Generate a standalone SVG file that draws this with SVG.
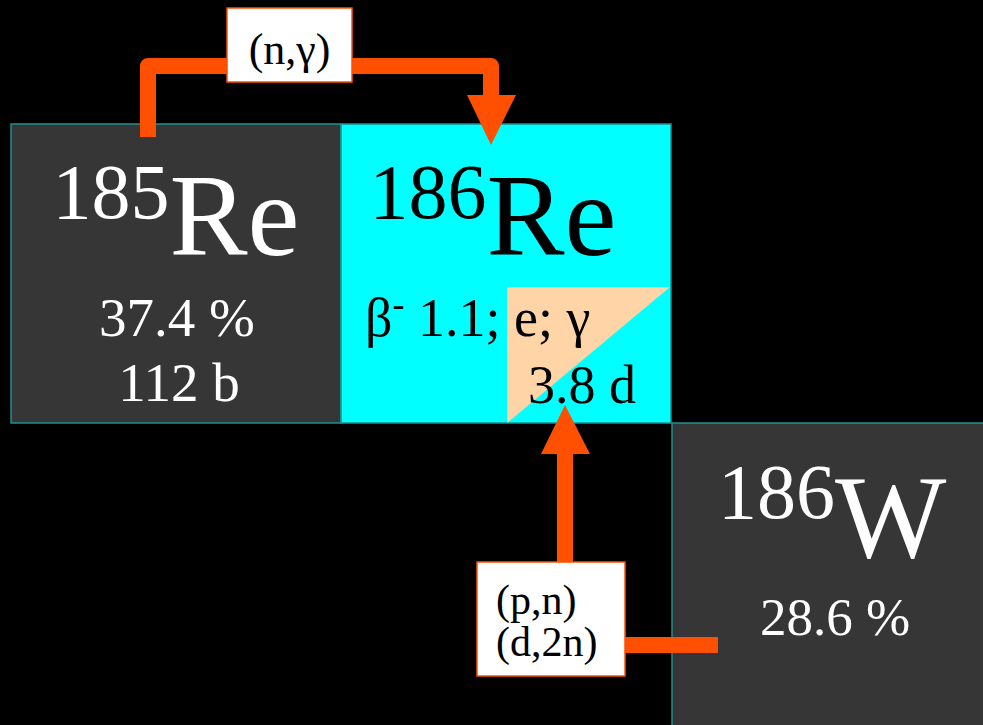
<svg xmlns="http://www.w3.org/2000/svg" width="983" height="725" viewBox="0 0 983 725">
<style>
.t{font-family:"Liberation Serif","Times New Roman",serif}
.w{fill:#ffffff}
.k{fill:#000000}
.cell{stroke:#1f8f8f;stroke-width:1.5}
.dark{fill:#363636}
.conn{fill:none;stroke:#ff4f00;stroke-width:16;stroke-linejoin:round}
.head{fill:#ff4f00}
.lbl{fill:#ffffff;stroke:#ff4f00;stroke-width:1.5}
</style>
<rect x="0" y="0" width="983" height="725" fill="#000000"/>
<g id="re185">
<rect class="cell dark" x="11" y="124" width="330" height="299"/>
<text class="t w" x="176" y="255" text-anchor="middle"><tspan font-size="78" dy="-37">185</tspan><tspan font-size="117" dy="37">Re</tspan></text>
<text class="t w" x="177" y="336" font-size="55" text-anchor="middle">37.4 %</text>
<text class="t w" x="179" y="401" font-size="55" text-anchor="middle">112 b</text>
</g>
<g id="re186">
<rect class="cell" fill="#00ffff" x="341" y="124" width="330" height="299"/>
<polygon points="507,287 670,287 507,423" fill="#ffd5a8"/>
<text class="t k" x="493" y="255" text-anchor="middle"><tspan font-size="78" dy="-37">186</tspan><tspan font-size="117" dy="37">Re</tspan></text>
<text class="t k" x="365" y="336" font-size="54">β<tspan font-size="36" dy="-20">-</tspan><tspan dy="20"> 1.1; e; γ</tspan></text>
<text class="t k" x="528" y="403" font-size="54">3.8 d</text>
</g>
<g id="w186">
<rect class="cell dark" x="672" y="423" width="320" height="310"/>
<text class="t w" x="718" y="557"><tspan font-size="78" dy="-39">186</tspan><tspan font-size="118" dy="39">W</tspan></text>
<text class="t w" x="835" y="635" font-size="53" text-anchor="middle">28.6 %</text>
</g>
<g id="connectors">
<path class="conn" d="M148,137 V66 H230"/>
<path class="conn" d="M350,66 H491 V96"/>
<polygon class="head" points="467,95 516,95 491,145"/>
<path class="conn" d="M565,565 V453"/>
<polygon class="head" points="541,454 590,454 565,405"/>
<path class="conn" d="M622,645 H718" stroke-linejoin="miter"/>
</g>
<g id="label-ng">
<rect class="lbl" x="227" y="8" width="125" height="74"/>
<text class="t k" x="289.5" y="64" font-size="44" text-anchor="middle">(n,γ)</text>
</g>
<g id="label-pn">
<rect class="lbl" x="477" y="562" width="148" height="114"/>
<text class="t k" x="496" y="614" font-size="42">(p,n)</text>
<text class="t k" x="496" y="656" font-size="42">(d,2n)</text>
</g>
</svg>
